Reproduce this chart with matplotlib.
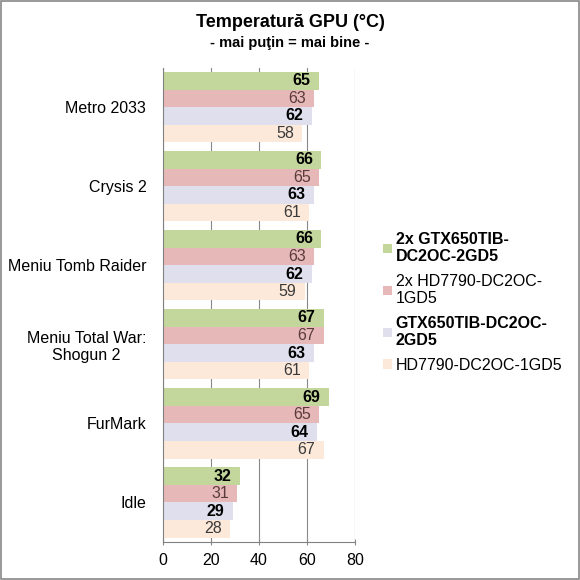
import numpy as np
import matplotlib
matplotlib.use('Agg')
import matplotlib.pyplot as plt
from matplotlib.patches import Rectangle

plt.rcParams['font.family'] = ['Liberation Sans', 'DejaVu Sans']

games = ['Metro 2033', 'Crysis 2', 'Meniu Tomb Raider', 'Meniu Total War:\nShogun 2', 'FurMark', 'Idle']
series = ['2x GTX650TIB-\nDC2OC-2GD5', '2x HD7790-DC2OC-\n1GD5', 'GTX650TIB-DC2OC-\n2GD5', 'HD7790-DC2OC-1GD5']
gtx_sli = [65, 66, 66, 67, 69, 32]
hd_cf = [63, 65, 63, 67, 65, 31]
gtx = [62, 63, 62, 63, 64, 29]
hd = [58, 61, 59, 61, 67, 28]

colors = ['#c3d69b', '#e6b9b8', '#e0dfee', '#fde9d9']
txtcol = ['#000000', '#5a3a3a', '#000000', '#3a3a3a']
bold = [True, False, True, False]

fig = plt.figure(figsize=(5.8, 5.8), dpi=100)
ax = fig.add_axes([0.281, 0.0655, 0.331, 0.818])

vals = [gtx_sli, hd_cf, gtx, hd]
h = 0.222
y = np.arange(len(games))
for i, v in enumerate(vals):
    pos = y - 1.5 * h + i * h
    ax.barh(pos, v, height=h, color=colors[i], label=series[i], zorder=2)
    for p, val in zip(pos, v):
        ax.text(val - 3.5, p, str(val), ha='right', va='center', fontsize=11.5,
                color=txtcol[i], fontweight='bold' if bold[i] else 'normal', zorder=3)

ax.set_ylim(len(games) - 0.5, -0.5)
ax.set_xlim(0, 80)
ax.set_xticks([0, 20, 40, 60, 80])
ax.set_yticks(y)
ax.set_yticklabels(games, fontsize=11.5, ha='right', multialignment='center')
ax.tick_params(axis='y', which='major', length=0, pad=12)
ax.tick_params(axis='x', labelsize=11.5, length=4, color='#888888', direction='inout', pad=6)
ax.xaxis.grid(True, color='#888888', lw=0.8, zorder=0)
for s in ['top', 'right']:
    ax.spines[s].set_visible(False)
for s in ['left', 'bottom']:
    ax.spines[s].set_color('#808080')

fig.text(0.5, 0.961, 'Temperatură GPU (°C)', ha='center', va='center', fontsize=13, fontweight='bold')
fig.text(0.5, 0.925, '- mai puţin = mai bine -', ha='center', va='center', fontsize=10.5, fontweight='bold')

leg = ax.legend(loc='center left', bbox_to_anchor=(1.07, 0.505), frameon=False, fontsize=11.5,
                handlelength=0.55, handleheight=0.55, handletextpad=0.25, labelspacing=0.6)
for t, b in zip(leg.get_texts(), bold):
    if b:
        t.set_fontweight('bold')

fig.patches.append(Rectangle((0.001, 0.001), 0.997, 0.997, transform=fig.transFigure,
                             fill=False, edgecolor='#888888', lw=1.2))

fig.savefig('out.png', dpi=100)
